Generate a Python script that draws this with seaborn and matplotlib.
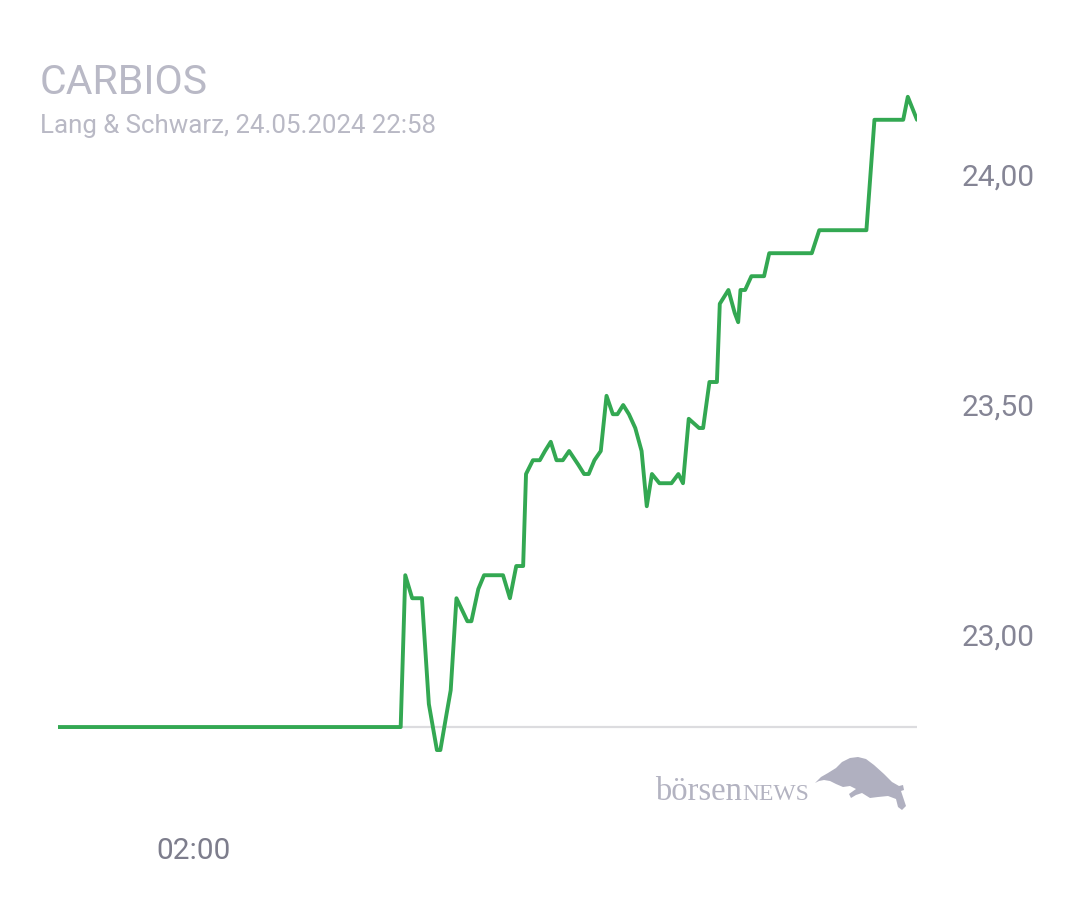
import pandas as pd
import seaborn as sns
import matplotlib.pyplot as plt
from matplotlib.patches import Polygon

# Intraday quotes CARBIOS (Lang & Schwarz)
times = ["2024-05-23 22:04", "2024-05-24 08:00", "2024-05-24 08:08", "2024-05-24 08:20",
         "2024-05-24 08:37", "2024-05-24 08:49", "2024-05-24 09:03", "2024-05-24 09:09",
         "2024-05-24 09:20", "2024-05-24 09:27", "2024-05-24 09:37", "2024-05-24 09:56",
         "2024-05-24 10:03", "2024-05-24 10:15", "2024-05-24 10:25", "2024-05-24 10:58",
         "2024-05-24 11:10", "2024-05-24 11:21", "2024-05-24 11:33", "2024-05-24 11:38",
         "2024-05-24 11:50", "2024-05-24 12:02", "2024-05-24 12:11", "2024-05-24 12:21",
         "2024-05-24 12:31", "2024-05-24 12:42", "2024-05-24 12:53", "2024-05-24 13:09",
         "2024-05-24 13:19", "2024-05-24 13:27", "2024-05-24 13:37", "2024-05-24 13:48",
         "2024-05-24 13:58", "2024-05-24 14:09", "2024-05-24 14:17", "2024-05-24 14:27",
         "2024-05-24 14:37", "2024-05-24 14:48", "2024-05-24 14:59", "2024-05-24 15:08",
         "2024-05-24 15:17", "2024-05-24 15:30", "2024-05-24 15:51", "2024-05-24 16:03",
         "2024-05-24 16:11", "2024-05-24 16:21", "2024-05-24 16:39", "2024-05-24 16:46",
         "2024-05-24 16:57", "2024-05-24 17:10", "2024-05-24 17:15", "2024-05-24 17:30",
         "2024-05-24 17:41", "2024-05-24 17:47", "2024-05-24 17:51", "2024-05-24 17:59",
         "2024-05-24 18:10", "2024-05-24 18:32", "2024-05-24 18:41", "2024-05-24 19:55",
         "2024-05-24 20:08", "2024-05-24 21:30", "2024-05-24 21:44", "2024-05-24 22:34",
         "2024-05-24 22:42", "2024-05-24 22:58"]
prices = [22.80, 22.80, 23.13, 23.08,
          23.08, 22.85, 22.75, 22.75,
          22.83, 22.88, 23.08, 23.03,
          23.03, 23.10, 23.13, 23.13,
          23.08, 23.15, 23.15, 23.35,
          23.38, 23.38, 23.40, 23.42,
          23.38, 23.38, 23.40, 23.37,
          23.35, 23.35, 23.38, 23.40,
          23.52, 23.48, 23.48, 23.50,
          23.48, 23.45, 23.40, 23.28,
          23.35, 23.33, 23.33, 23.35,
          23.33, 23.47, 23.45, 23.45,
          23.55, 23.55, 23.72, 23.75,
          23.70, 23.68, 23.75, 23.75,
          23.78, 23.78, 23.83, 23.83,
          23.88, 23.88, 24.12, 24.12,
          24.17, 24.12]
prev_close = 22.80
y_ticks = [23.0, 23.5, 24.0]
y_labels = ["23,00", "23,50", "24,00"]
x_ticks = ["2024-05-24 02:00"]
x_labels = ["02:00"]

df = pd.DataFrame({"time": pd.to_datetime(times), "price": prices})

sns.set_style("white")
plt.rcParams["font.family"] = ["Roboto", "DejaVu Sans"]

fig = plt.figure(figsize=(10.8, 9), dpi=100)
ax = fig.add_axes([58 / 1080, 0.1104, (917 - 58) / 1080, 0.8025])

ax.axhline(prev_close, color="#dcdcdf", lw=1.6, zorder=1)
sns.lineplot(data=df, x="time", y="price", ax=ax, color="#33a852", lw=2.8, zorder=3)

ax.set_xlim(df["time"].iloc[0], df["time"].iloc[-1])
ax.set_ylim(22.64, 24.21)
for s in ax.spines.values():
    s.set_visible(False)

ax.yaxis.tick_right()
ax.set_yticks(y_ticks)
ax.set_yticklabels(y_labels)
ax.set_xticks(pd.to_datetime(x_ticks))
ax.set_xticklabels(x_labels)
ax.tick_params(axis="y", length=0, pad=32, labelsize=21.5, labelcolor="#858595")
ax.tick_params(axis="x", length=0, pad=26, labelsize=21.5, labelcolor="#7d7d8c")
ax.set_xlabel("")
ax.set_ylabel("")
ax.grid(False)

fig.text(40 / 1080, 1 - 94 / 900, "CARBIOS", fontsize=29.5, color="#b9b9c6", va="baseline")
fig.text(40 / 1080, 1 - 133 / 900, "Lang & Schwarz, 24.05.2024 22:58", fontsize=18.6,
         color="#b9b9c5", va="baseline")

# börsenNEWS watermark
fig.text(655 / 1080, 1 - 800 / 900, "börsen", fontsize=23.5, family="Liberation Serif",
         color="#b3b3c1", va="baseline")
fig.text(742 / 1080, 1 - 800 / 900, "NEWS", fontsize=17, family="Liberation Serif",
         color="#b3b3c1", va="baseline")
bull = [(815, 783), (821, 777), (828, 773), (836, 768), (842, 762), (850, 758), (858, 757),
        (866, 759), (874, 765), (884, 774), (892, 782), (899, 786), (903, 785), (904, 790),
        (901, 791), (906, 806), (902, 810), (898, 807), (896, 799), (888, 796), (878, 797),
        (870, 798), (862, 793), (856, 795), (851, 798), (849, 794), (856, 789), (850, 786),
        (843, 787), (836, 784), (830, 781), (824, 780), (819, 781)]
fig.patches.append(Polygon([(x / 1080, 1 - y / 900) for x, y in bull], closed=True,
                           transform=fig.transFigure, facecolor="#b0b0c0", edgecolor="none"))

plt.savefig("out.png", dpi=100)
